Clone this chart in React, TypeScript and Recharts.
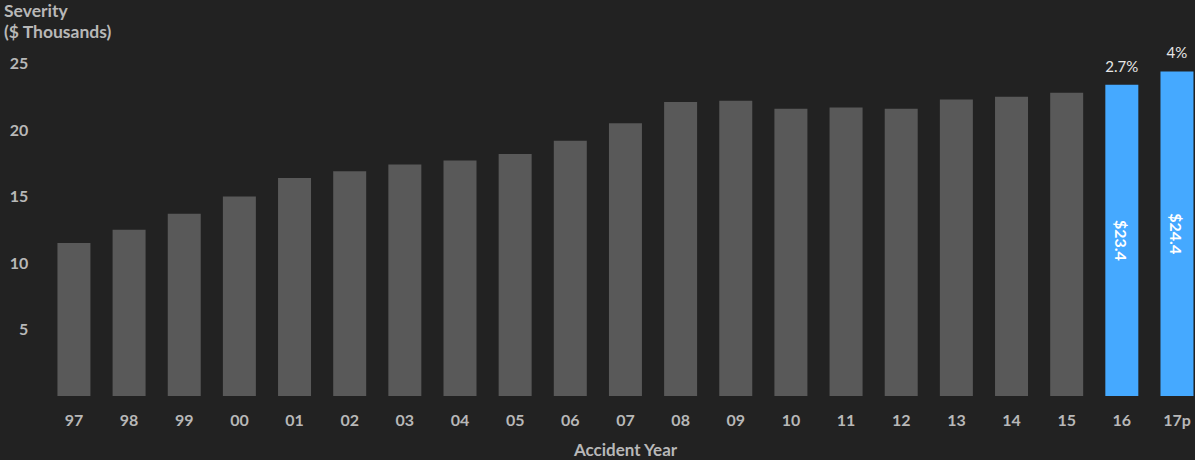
import { Bar, BarChart, Cell, LabelList, XAxis, YAxis } from "recharts"

const years = ["97", "98", "99", "00", "01", "02", "03", "04", "05", "06", "07", "08", "09", "10", "11", "12", "13", "14", "15", "16", "17p"]
const severity = [11.5, 12.5, 13.7, 15.0, 16.4, 16.9, 17.4, 17.7, 18.2, 19.2, 20.5, 22.1, 22.2, 21.6, 21.7, 21.6, 22.3, 22.5, 22.8, 23.4, 24.4]
const growth = ["", "", "", "", "", "", "", "", "", "", "", "", "", "", "", "", "", "", "", "2.7%", "4%"]
const highlighted = ["16", "17p"]
const yTicks = [5, 10, 15, 20, 25]

const data = years.map((year, i) => ({
  year,
  severity: severity[i],
  growth: growth[i],
  hl: highlighted.includes(year),
}))

const BG = "#222222"
const GRAY = "#595959"
const BLUE = "#45a9ff"
const TEXT = "#b8b8b8"
const FONT = "Lato, 'Open Sans', sans-serif"

function ValueInside(props: any) {
  const { x, y, width, height, index } = props
  if (!data[index].hl) return null
  const cx = x + width / 2
  const cy = y + height / 2
  return (
    <text
      x={cx}
      y={cy}
      transform={`rotate(90 ${cx} ${cy})`}
      textAnchor="middle"
      dominantBaseline="central"
      fill="#ffffff"
      fontFamily={FONT}
      fontWeight={700}
      fontSize={16}
    >
      ${data[index].severity.toFixed(1)}
    </text>
  )
}

function GrowthAbove(props: any) {
  const { x, y, width, index } = props
  const txt = data[index].growth
  if (!txt) return null
  return (
    <text x={x + width / 2} y={y - 13} textAnchor="middle" fill="#e6e6e6" fontFamily={FONT} fontSize={15}>
      {txt}
    </text>
  )
}

export default function App() {
  return (
    <div style={{ position: "absolute", left: 0, top: 0, width: 1195, height: 460, overflow: "hidden", background: BG, fontFamily: FONT }}>
      <div style={{ position: "absolute", left: 4, top: 0, color: TEXT, fontWeight: 700, fontSize: 17.5, lineHeight: "21px" }}>
        Severity
        <br />
        ($ Thousands)
      </div>
      <BarChart
        width={1213}
        height={460}
        data={data}
        margin={{ top: 63.5, right: 8.4, bottom: 14, left: 0 }}
        barCategoryGap="20%"
      >
        <XAxis
          dataKey="year"
          axisLine={false}
          tickLine={false}
          tickSize={0}
          tickMargin={19}
          height={50}
          interval={0}
          tick={{ fill: TEXT, fontSize: 16, fontWeight: 700, fontFamily: FONT }}
          label={{ value: "Accident Year", position: "insideBottom", offset: -10, fill: TEXT, fontSize: 17, fontWeight: 700, fontFamily: FONT }}
        />
        <YAxis
          domain={[0, 25]}
          ticks={yTicks}
          axisLine={false}
          tickLine={false}
          tickSize={0}
          tickMargin={18}
          width={46.4}
          tick={{ fill: TEXT, fontSize: 16, fontWeight: 700, fontFamily: FONT }}
        />
        <Bar dataKey="severity" isAnimationActive={false}>
          {data.map((d) => (
            <Cell key={d.year} fill={d.hl ? BLUE : GRAY} />
          ))}
          <LabelList dataKey="severity" content={ValueInside} />
          <LabelList dataKey="growth" content={GrowthAbove} />
        </Bar>
      </BarChart>
    </div>
  )
}
